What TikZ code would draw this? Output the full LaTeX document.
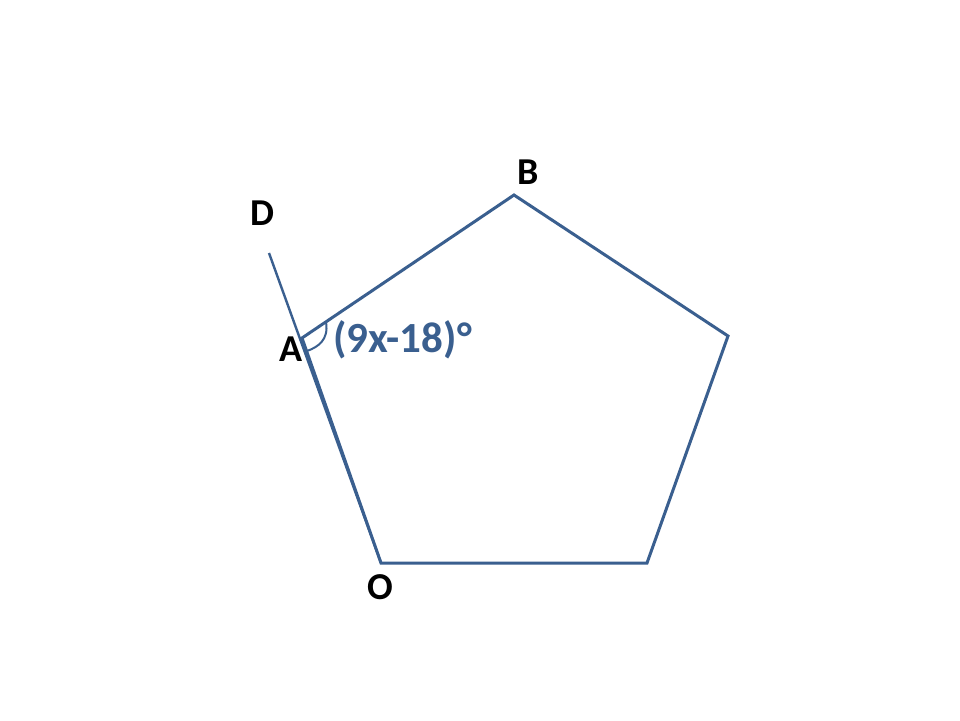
\documentclass[tikz,border=0pt]{standalone}
\usepackage{fontspec}
\setmainfont{Carlito}
\definecolor{edge}{HTML}{3A5F8F}
\begin{document}
\begin{tikzpicture}[x=1pt,y=-1pt,
  side/.style={draw=edge,line width=3pt,line join=miter},
  lbl/.style={font=\bfseries\fontsize{38}{38}\selectfont,text=black,inner sep=0pt},
  anglbl/.style={font=\bfseries\fontsize{43}{43}\selectfont,text=edge,inner sep=0pt,anchor=west}]
\useasboundingbox[fill=white] (0,0) rectangle (960,720);
\coordinate (B) at (514,195);
\coordinate (C) at (728,336);
\coordinate (E) at (647,563);
\coordinate (O) at (381,563);
\coordinate (A) at (302,338);
\coordinate (D) at (269,253);
\draw[side] (A) -- (B) -- (C) -- (E) -- (O) -- cycle;
\draw[side,line width=2.4pt] (D) -- (O);
\draw[draw=edge,line width=2pt] (326,322) .. controls (329,340) and (318,347) .. (307,351);
\node[lbl] (lB) at (528,172) {B};
\node[lbl] (lD) at (262,213) {D};
\node[lbl] (lA) at (291,349) {A};
\node[lbl] (lO) at (380,587) {O};
\node[anglbl] (ang) at (333,340) {(9x-18)°};
\end{tikzpicture}
\end{document}
